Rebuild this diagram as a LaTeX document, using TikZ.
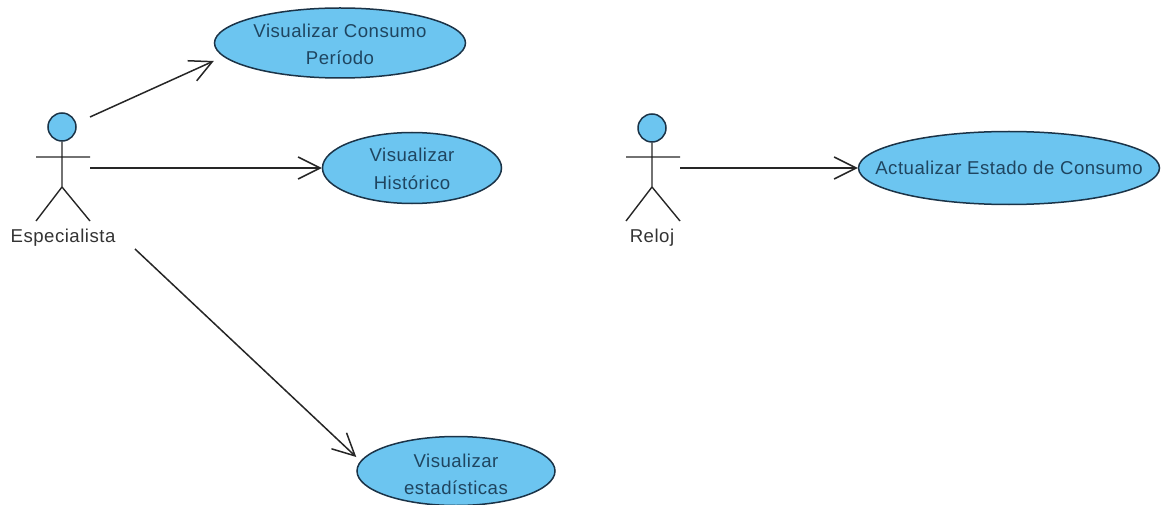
\documentclass[tikz,border=0pt]{standalone}
\usepackage{fontspec}
\setmainfont[LetterSpace=2.7]{Liberation Sans}
\usetikzlibrary{shapes.geometric,arrows.meta}
\definecolor{ucfill}{HTML}{6CC5F0}
\definecolor{ucline}{HTML}{1B3347}
\definecolor{uctext}{HTML}{1F4560}
\definecolor{lbltext}{HTML}{333333}
\definecolor{assocline}{HTML}{262626}
\newcommand{\toppad}[1]{\rule{0pt}{#1}}
\tikzset{
	usecase/.style={shape=ellipse,draw=ucline,fill=ucfill,line width=1.5pt,inner sep=0pt,
		text=uctext,align=center,font=\fontsize{18.6}{27.5}\selectfont},
	head/.style={shape=circle,draw=ucline,fill=ucfill,line width=1.5pt,inner sep=0pt,minimum size=28pt},
	actorlabel/.style={text=lbltext,inner sep=0pt,font=\fontsize{18.6}{20}\selectfont},
	limb/.style={draw=assocline,line width=1.4pt},
	assoc/.style={draw=assocline,line width=1.5pt,-{Straight Barb[length=22pt,width=22pt]}}
}
\begin{document}
\begin{tikzpicture}[x=1pt,y=-1pt]
	\useasboundingbox (0,0) rectangle (1161,505);
	% use cases
	\node[usecase,minimum width=251pt,minimum height=70pt] (consumo) at (340,43) {\toppad{16.5pt}Visualizar Consumo\\Período};
	\node[usecase,minimum width=179pt,minimum height=71pt] (historico) at (412,168) {\toppad{15.5pt}Visualizar\\Histórico};
	\node[usecase,minimum width=198pt,minimum height=69pt] (estad) at (456,471) {\toppad{20pt}Visualizar\\estadísticas};
	\node[usecase,minimum width=301pt,minimum height=73pt,inner xsep=-30pt] (estado) at (1009,168) {Actualizar Estado de Consumo};
	% actors
	\node[head] (espHead) at (62,127) {};
	\coordinate (espHip) at (62,187);
	\draw[limb] (espHead.south) -- (espHip) (36,157) -- (90,157) (36,221) -- (espHip) -- (90,221);
	\node[actorlabel] (esp) at (63,238) {Especialista};
	\node[head] (relHead) at (652,128) {};
	\coordinate (relHip) at (652,187);
	\draw[limb] (relHead.south) -- (relHip) (626,157) -- (680,157) (626,221) -- (relHip) -- (680,221);
	\node[actorlabel] (rel) at (652,238) {Reloj};
	% associations
	\coordinate (espA) at (90,117);
	\coordinate (espB) at (90,168);
	\coordinate (espC) at (135,249);
	\coordinate (relA) at (680,168);
	\draw[assoc] (espA) -- ([yshift=-18pt]consumo.west);
	\draw[assoc] (espB) -- (historico.west);
	\draw[assoc] (espC) -- ([yshift=14pt]estad.west);
	\draw[assoc] (relA) -- (estado.west);
\end{tikzpicture}
\end{document}
